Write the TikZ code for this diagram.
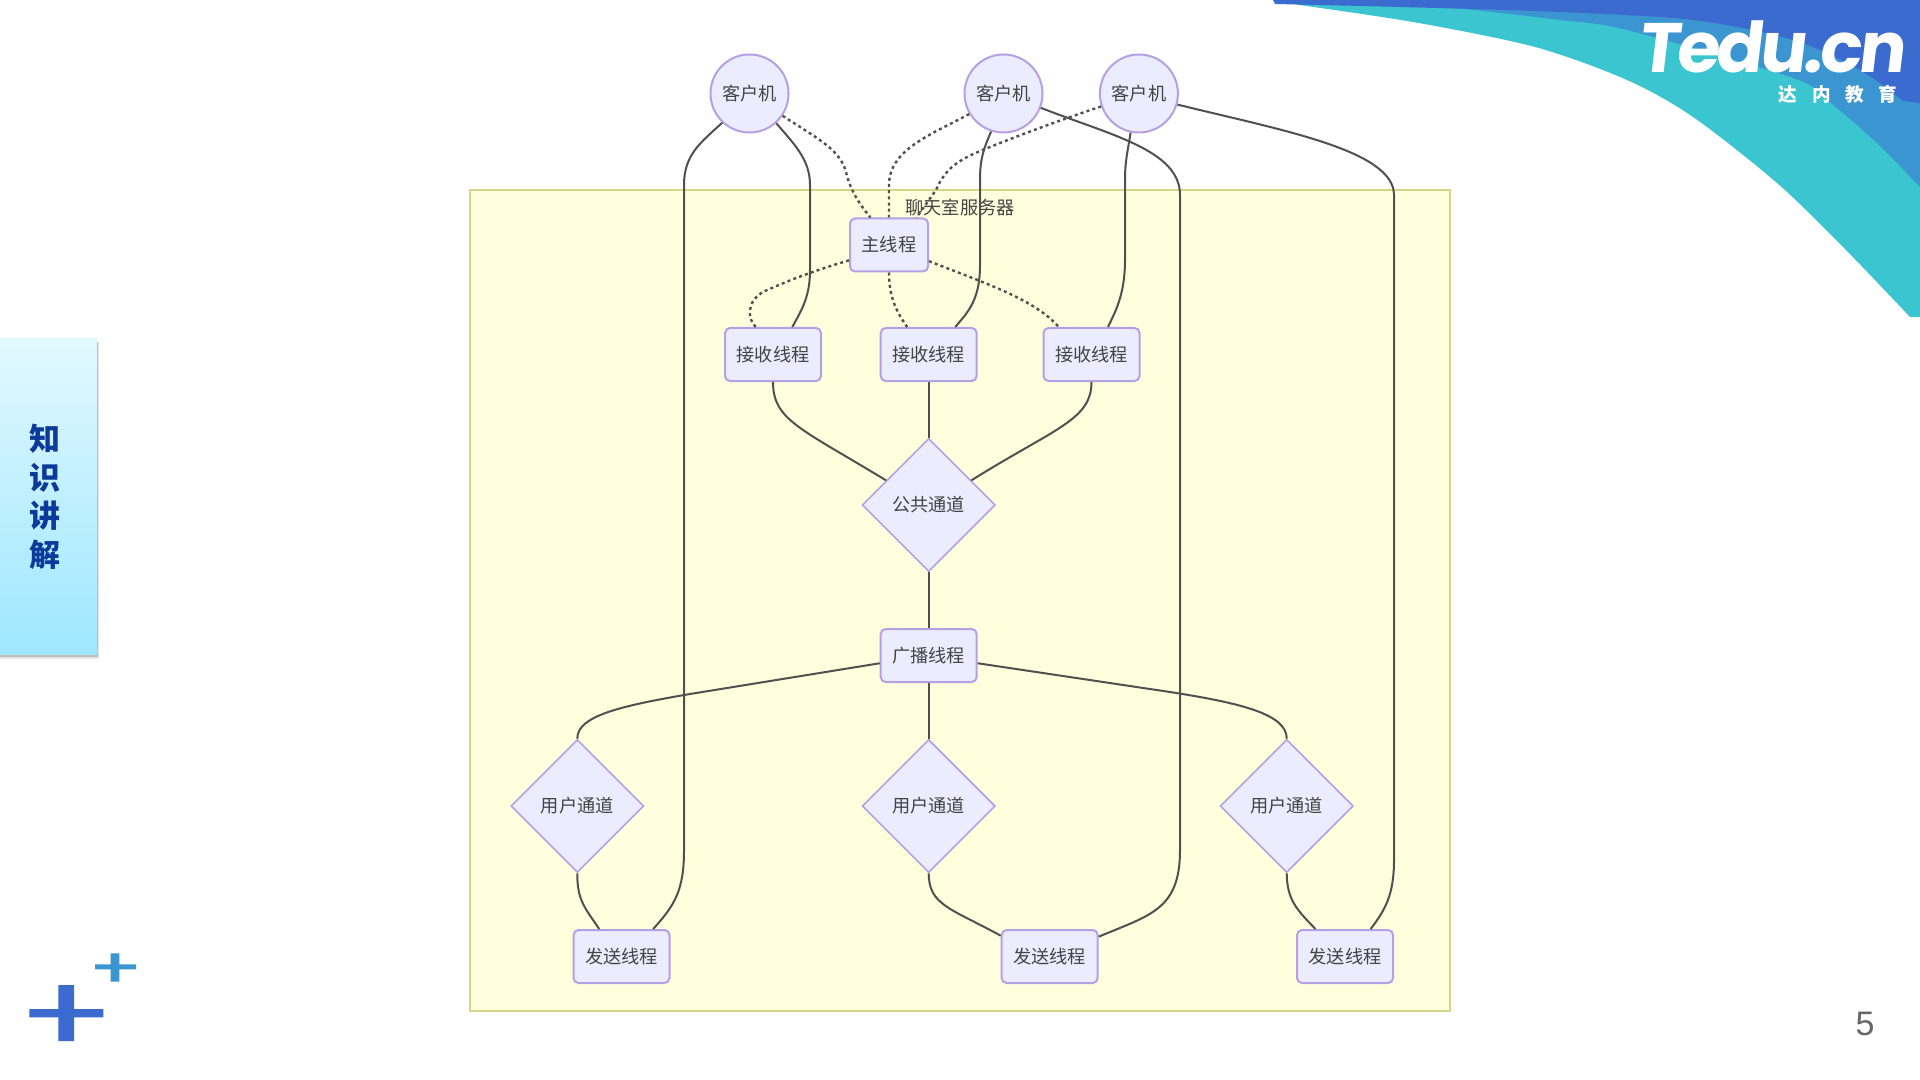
\documentclass[tikz,border=0pt]{standalone}
\usepackage{fontspec}
\setmainfont{Noto Sans CJK SC}
\newfontfamily\logofont[FakeSlant=0.12,LetterSpace=-5]{Poppins}
\newfontfamily\pagefont{Liberation Sans}
\usetikzlibrary{arrows.meta,positioning,shapes.geometric}

\definecolor{nodefill}{HTML}{ECECFF}
\definecolor{nodeline}{HTML}{B5A0E6}
\definecolor{boxfill}{HTML}{FFFFDE}
\definecolor{boxline}{HTML}{D6D68A}
\definecolor{wireline}{HTML}{505050}
\definecolor{labeltext}{HTML}{444444}
\definecolor{darkblue}{HTML}{3B6BCE}
\definecolor{midblue}{HTML}{3B95D0}
\definecolor{teal}{HTML}{3BC5D0}
\definecolor{tabtop}{HTML}{E2F8FF}
\definecolor{tabbottom}{HTML}{9EE7FF}
\definecolor{tabtext}{HTML}{0B3A9A}
\definecolor{pagetext}{HTML}{666666}

\begin{document}
\begin{tikzpicture}[
    x = 0.5pt,
    y = -0.5pt,
    on grid, % distances run from centre to centre
    semithick
    ]

    \tikzset{
    client/.style={circle, draw=nodeline, line width=1pt, fill=nodefill, text=labeltext,
        minimum size=39pt, inner sep=0pt, font=\fontsize{9.1}{11}\selectfont},
    thread/.style={rectangle, rounded corners=2.5pt, draw=nodeline, line width=1pt, fill=nodefill,
        text=labeltext, minimum width=48pt, minimum height=26.5pt, inner sep=0pt,
        font=\fontsize{9.1}{11}\selectfont},
    channel/.style={diamond, draw=nodeline, line width=0.8pt, fill=nodefill, text=labeltext,
        minimum width=66.5pt, minimum height=66.5pt, inner sep=0pt,
        font=\fontsize{9.1}{11}\selectfont},
    wire/.style={draw=wireline, line width=1pt},
    dotwire/.style={wire, line width=1.2pt, dash pattern=on 1.5pt off 1.6pt}
    }

    \useasboundingbox (0,0) rectangle (1920,1080);
    \fill[white] (0,0) rectangle (1920,1080);

    % corner banner
    \fill[teal] plot[smooth] coordinates {(1285,3) (1413,22) (1535,47) (1627,80) (1693,117) (1777,183) (1843,247) (1910,317)}
        -- (1920,317) -- (1920,0) -- (1285,0) -- cycle;
    \fill[midblue] plot[smooth] coordinates {(1457,8) (1560,20) (1627,30) (1793,78) (1827,100) (1877,143) (1920,187)}
        -- (1920,0) -- (1457,0) -- cycle;
    \fill[darkblue] plot[smooth] coordinates {(1275,4) (1400,7) (1560,12) (1693,20) (1793,40) (1860,70) (1903,101)}
        -- (1920,103) -- (1920,0) -- (1273,0) -- cycle;
    \node[text=white, inner sep=0pt] (logo) at (1771,47)
        {\logofont\fontsize{35}{35}\selectfont\bfseries Tedu.cn};
    \node[text=white, inner sep=0pt] (logosub) at (1838,94)
        {\fontsize{9.3}{10}\selectfont\bfseries 达\hspace{7.4pt}内\hspace{7.4pt}教\hspace{7.4pt}育};

    % side tab
    \fill[black!10] (0,342) rectangle (99,659);
    \fill[black!25] (0,342) rectangle (98,656.5);
    \shade[top color=tabtop, bottom color=tabbottom] (0,339) rectangle (96.5,654);
    \node[text=tabtext, inner sep=0pt, align=center, font=\fontsize{15.5}{19.25}\selectfont\bfseries] (tab) at (44.7,497)
        {知\\识\\讲\\解};

    % plus signs
    \fill[darkblue] (29.3,1009) rectangle (103.3,1017.3) (58.3,985) rectangle (74,1041);
    \fill[midblue] (95,964.3) rectangle (136,969.3) (110.7,953.3) rectangle (119.3,981.7);

    \node[text=pagetext, inner sep=0pt] (page) at (1865,1024)
        {\pagefont\fontsize{17}{20}\selectfont 5};

    % server box
    \node[rectangle, draw=boxline, line width=1pt, fill=boxfill, minimum width=490pt, minimum height=410.5pt]
        (server) at (960,600.5) {};
    \node[text=labeltext, inner sep=0pt, font=\fontsize{9.1}{11}\selectfont] (title) [below=4.5pt of server.north] {聊天室服务器};

    \node[client] (client1) at (749.5,93.5) {客户机};
    \node[client] (client2) [right=127pt of client1] {客户机};
    \node[client] (client3) [right=67.7pt of client2] {客户机};

    \node[thread, minimum width=39pt] (mainth) [below right=75.75pt and 69.75pt of client1] {主线程};
    \node[thread] (recv2) [below right=54.75pt and 19.85pt of mainth] {接收线程};
    \node[thread] (recv1) [left=77.85pt of recv2] {接收线程};
    \node[thread] (recv3) [right=81.4pt of recv2] {接收线程};

    \node[channel] (pub) [below=75.25pt of recv2] {公共通道};
    \node[thread] (cast) [below=75.25pt of pub] {广播线程};

    \node[channel] (chan2) [below=75.25pt of cast] {用户通道};
    \node[channel] (chan1) [left=175.7pt of chan2] {用户通道};
    \node[channel] (chan3) [right=179pt of chan2] {用户通道};

    \node[thread] (send1) [below right=75.25pt and 22.1pt of chan1] {发送线程};
    \node[thread] (send2) [below right=75.25pt and 60.5pt of chan2] {发送线程};
    \node[thread] (send3) [below right=75.25pt and 29.15pt of chan3] {发送线程};

    % solid links
    \draw[wire] (client1.227) .. controls (700,143) and (684,155) .. (684,185) -- (684,850)
        .. controls (684,890) and (675,905) .. (send1.41);
    \draw[wire] (client1.-48) .. controls (795,145) and (810,160) .. (810,185) -- (810,270)
        .. controls (810,295) and (803,308) .. (recv1.55);
    \draw[wire] (client2.-21) .. controls (1110,135) and (1180,150) .. (1180,195) -- (1180,850)
        .. controls (1180,910) and (1150,915) .. (send2.22);
    \draw[wire] (client2.-108) .. controls (983,150) and (980,160) .. (980,180) -- (980,265)
        .. controls (980,300) and (968,312) .. (recv2.46);
    \draw[wire] (client3.-102) .. controls (1128,150) and (1125,160) .. (1125,180) -- (1125,260)
        .. controls (1125,295) and (1115,312) .. (recv3.59);
    \draw[wire] (client3.-16) .. controls (1280,130) and (1394,150) .. (1394,195) -- (1394,860)
        .. controls (1394,895) and (1385,910) .. (send3.47);

    \draw[wire] (recv1.south) .. controls (773,420) and (800,428) .. (pub.150);
    \draw[wire] (recv2.south) -- (pub.north);
    \draw[wire] (recv3.south) .. controls (1091.5,420) and (1055,428) .. (pub.30);
    \draw[wire] (pub.south) -- (cast.north);

    \draw[wire] (cast.189) -- (690,694) .. controls (620,706) and (577,716) .. (chan1.north);
    \draw[wire] (cast.south) -- (chan2.north);
    \draw[wire] (cast.-9) -- (1170,692) .. controls (1240,703) and (1287,714) .. (chan3.north);

    \draw[wire] (chan1.south) .. controls (577,900) and (585,908) .. (send1.129);
    \draw[wire] (chan2.south) .. controls (928.8,905) and (950,908) .. (send2.157);
    \draw[wire] (chan3.south) .. controls (1287,900) and (1297,910) .. (send3.137);

    % dotted links
    \draw[dotwire] (client1.-34) .. controls (820,140) and (840,150) .. (846,172)
        .. controls (850,190) and (860,205) .. (mainth.124);
    \draw[dotwire] (client2.211) .. controls (930,135) and (889,150) .. (889,185) -- (mainth.north);
    \draw[dotwire] (client3.199) .. controls (1060,120) and (1020,135) .. (985,149)
        .. controls (955,161) and (945,170) .. (936,190) -- (mainth.45);

    \draw[dotwire] (mainth.201) .. controls (810,272) and (790,280) .. (765,291)
        .. controls (745,301) and (748,320) .. (recv1.122);
    \draw[dotwire] (mainth.south) .. controls (889,295) and (895,310) .. (recv2.128);
    \draw[dotwire] (mainth.-22) .. controls (990,285) and (1035,300) .. (recv3.140);
\end{tikzpicture}
\end{document}
